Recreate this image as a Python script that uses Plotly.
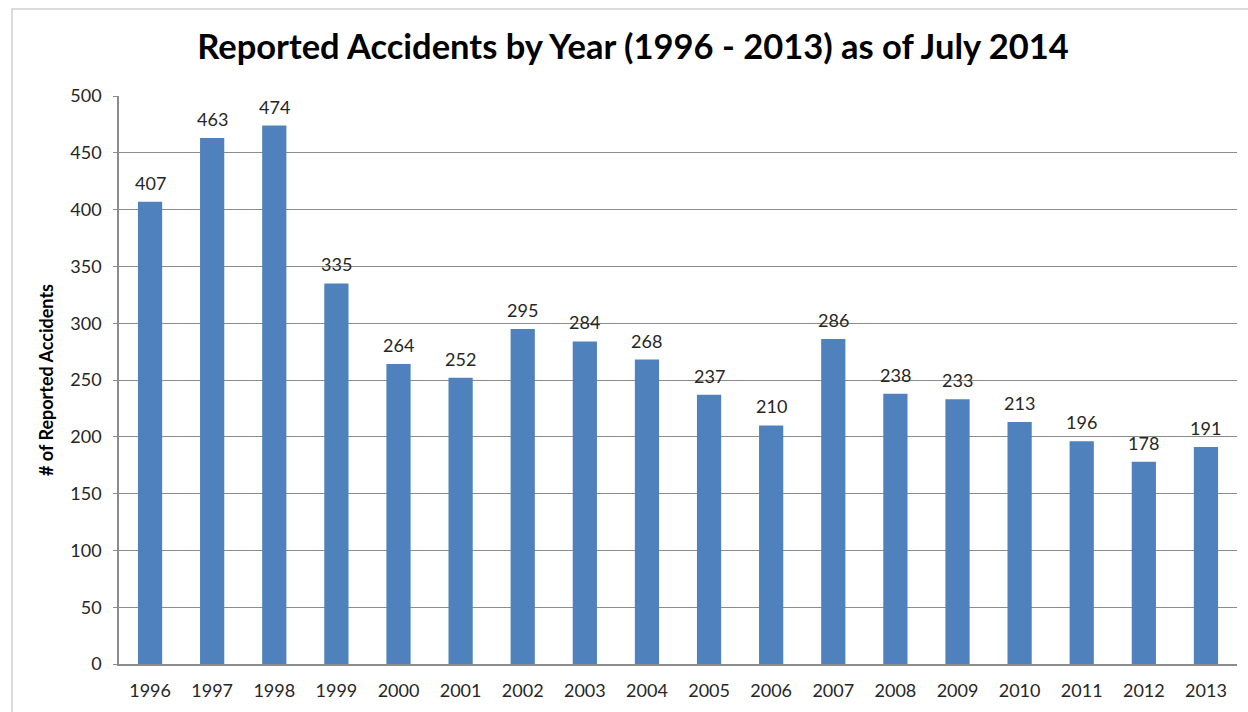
import plotly.graph_objects as go

years = ["1996", "1997", "1998", "1999", "2000", "2001", "2002", "2003", "2004",
         "2005", "2006", "2007", "2008", "2009", "2010", "2011", "2012", "2013"]
accidents = [407, 463, 474, 335, 264, 252, 295, 284, 268,
             237, 210, 286, 238, 233, 213, 196, 178, 191]
y_ticks = [0, 50, 100, 150, 200, 250, 300, 350, 400, 450, 500]

W, H = 1248, 712
ML, MR, MT, MB = 119, 11, 96, 48
PW, PH = W - ML - MR, H - MT - MB
LABEL_FONT = dict(family="Lato", size=18, color="#262626")

fig = go.Figure(
    go.Bar(
        x=years,
        y=accidents,
        marker=dict(color="#4F81BD", line=dict(width=0)),
        width=0.39,
        hoverinfo="x+y",
    )
)

# value labels above each bar (category axis positions are the list indices)
for i, v in enumerate(accidents):
    fig.add_annotation(
        x=i, y=v, xref="x", yref="y",
        text=str(v), showarrow=False,
        yanchor="bottom", yshift=6,
        font=LABEL_FONT,
    )

# light frame around the chart (left and top edges visible)
fig.add_shape(
    type="rect", xref="paper", yref="paper",
    x0=(12 - ML) / PW, x1=1.05,
    y0=-0.3, y1=1 + (MT - 9) / PH,
    line=dict(color="#d0d0d0", width=1.5), layer="below",
)

fig.update_layout(
    width=W, height=H,
    margin=dict(l=ML, r=MR, t=MT, b=MB),
    paper_bgcolor="white", plot_bgcolor="white",
    showlegend=False,
    bargap=0.61,
    title=dict(
        text="<b>Reported Accidents by Year (1996 - 2013) as of July 2014</b>",
        x=633 / W, xanchor="center",
        y=1 - 47 / H, yanchor="middle",
        font=dict(family="Lato", size=34.5, color="black"),
    ),
    xaxis=dict(
        type="category",
        range=[-0.5, len(years) - 0.5],
        showgrid=False,
        showline=True, linecolor="#8c8c8c", linewidth=1.5,
        ticks="", tickfont=LABEL_FONT,
        ticklabelstandoff=10,
    ),
    yaxis=dict(
        range=[0, 500],
        tickvals=y_ticks,
        showgrid=True, gridcolor="#8c8c8c", gridwidth=1,
        showline=True, linecolor="#8c8c8c", linewidth=1.5,
        ticks="outside", ticklen=4, tickcolor="#8c8c8c",
        tickfont=LABEL_FONT,
        ticklabelstandoff=8,
        zeroline=False,
        title=dict(
            text="<b># of Reported Accidents</b>",
            font=dict(family="Lato", size=18, color="black"),
            standoff=12,
        ),
    ),
)

fig.write_html("out.html")
